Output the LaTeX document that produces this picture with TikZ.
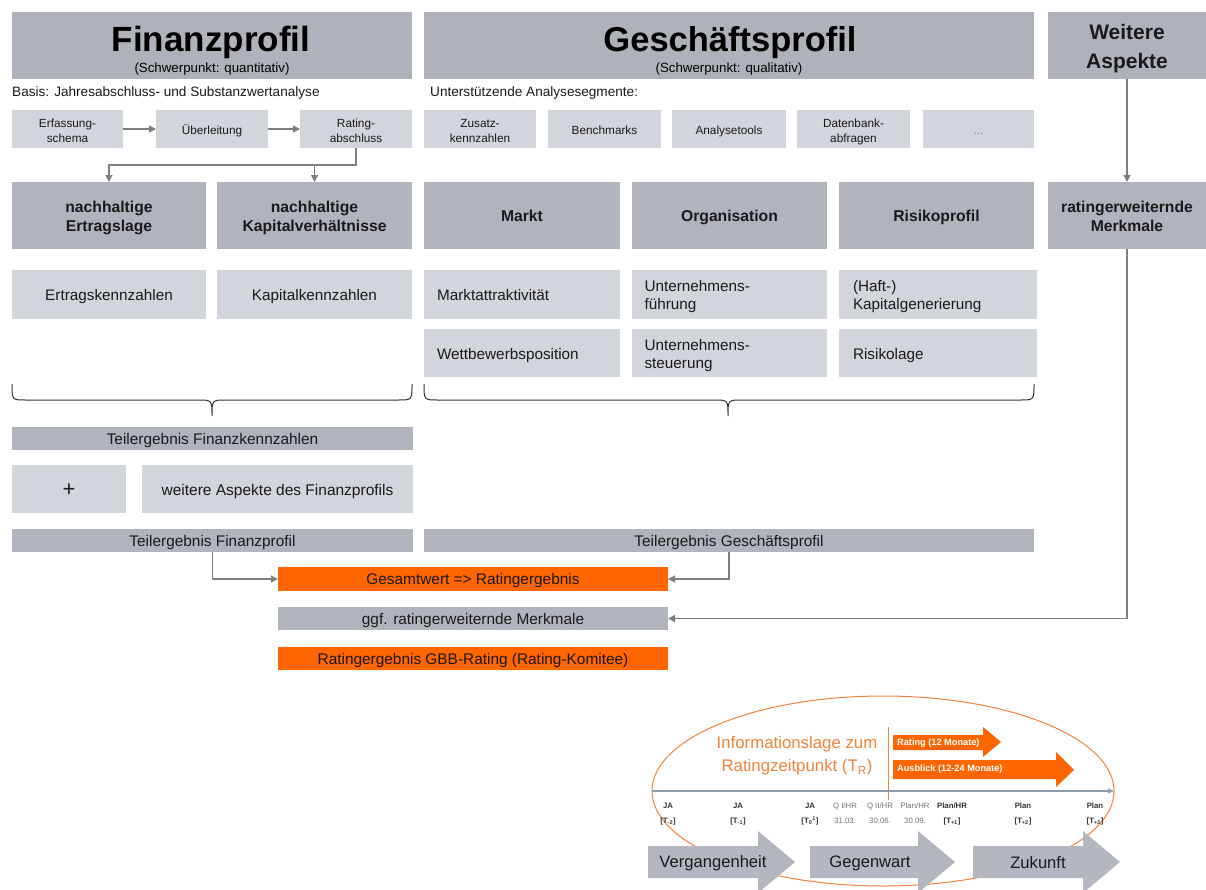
\documentclass[tikz,border=0pt]{standalone}
\usepackage{fontspec}
\setmainfont{Liberation Sans}
\usetikzlibrary{arrows.meta}
\definecolor{hdr}{HTML}{AFB2BB}
\definecolor{dk}{HTML}{B1B4BD}
\definecolor{lt}{HTML}{D3D5DC}
\definecolor{org}{HTML}{FF6600}
\definecolor{arr}{HTML}{808080}
\definecolor{ax}{HTML}{8E9BAE}
\definecolor{borg}{HTML}{F4843C}
\definecolor{bigarr}{HTML}{B4B7C0}
\definecolor{txt}{HTML}{1A1A1A}
\newcommand\fsz[2]{\fontsize{#1}{#2}\selectfont}
\newcommand\bxg[8]{\node[#1, minimum width={#5-#3}, minimum height={#6-#4}] (#2) at ({(#3+#5)/2},{(#4+#6)/2}) {\raisebox{0pt}[\dimexpr\height+5pt\relax][\depth]{\begin{tabular}{@{}#8@{}}#7\end{tabular}}};}
\newcommand\bx[7]{\bxg{#1}{#2}{#3}{#4}{#5}{#6}{#7}{c}}
\newcommand\bxl[7]{\bxg{#1}{#2}{#3}{#4}{#5}{#6}{#7}{p{170pt}}}
\tikzset{
  box/.style={inner sep=0pt, outer sep=0pt, text=txt},
  hdrbox/.style={box, fill=hdr},
  procbox/.style={box, fill=lt, font=\fsz{11.8}{15}},
  dkbox/.style={box, fill=dk, font=\bfseries\fsz{15.7}{19}},
  ltbox/.style={box, fill=lt, font=\fsz{15.3}{18}},
  barbox/.style={box, fill=dk, font=\fsz{15.4}{17}},
  orgbox/.style={box, fill=org, font=\fsz{15.4}{17}},
  conn/.style={draw=arr, line width=1.2pt, -{Triangle[length=7pt,width=7pt]}},
  brace/.style={draw=black!80, line width=1pt},
  tlb/.style={inner sep=0pt, font=\bfseries\fsz{7.8}{9}, text=black!80},
  tlr/.style={inner sep=0pt, font=\fsz{7.8}{9}, text=black!55},
  bigarrow/.style={fill=bigarr},
  orgarrow/.style={fill=org},
}
\begin{document}
\begin{tikzpicture}[x=1pt,y=-1pt]
\useasboundingbox[fill=white] (0,0) rectangle (1206,889);
% headers
\bx{hdrbox}{fp}{12}{12}{412}{79}{}
\node[anchor=base, inner sep=0pt, font=\bfseries\fsz{35}{37}] (fpt) at (211,51) {Finanzprofil};
\node[anchor=base, inner sep=0pt, font=\fsz{13.3}{15}] (fps) at (212,72) {(Schwerpunkt: quantitativ)};
\bx{hdrbox}{gp}{424}{12}{1034}{79}{}
\node[anchor=base, inner sep=0pt, font=\bfseries\fsz{34.5}{37}] (gpt) at (730,51) {Geschäftsprofil};
\node[anchor=base, inner sep=0pt, font=\fsz{13.3}{15}] (gps) at (729,72) {(Schwerpunkt: qualitativ)};
\bx{hdrbox, font=\bfseries\fsz{21}{29}}{wa}{1048}{12}{1206}{79}{Weitere\\Aspekte}
% sub headings
\node[anchor=base west, inner sep=0pt, font=\fsz{13.6}{15}, text=txt] (basis) at (12,96) {Basis: Jahresabschluss- und Substanzwertanalyse};
\node[anchor=base west, inner sep=0pt, font=\fsz{13.6}{15}, text=txt] (unter) at (430,96) {Unterstützende Analysesegmente:};
% process boxes
\bx{procbox}{e1}{12}{110}{123}{148}{Erfassung-\\schema}
\bx{procbox}{e2}{156}{110}{268}{148}{Überleitung}
\bx{procbox}{e3}{300}{110}{412}{148}{Rating-\\abschluss}
\bx{procbox}{s1}{424}{110}{536}{148}{Zusatz-\\kennzahlen}
\bx{procbox}{s2}{548}{110}{661}{148}{Benchmarks}
\bx{procbox}{s3}{672}{110}{786}{148}{Analysetools}
\bx{procbox}{s4}{797}{110}{910}{148}{Datenbank-\\abfragen}
\bx{procbox, text=black!50}{s5}{923}{110}{1034}{148}{...}
% dark row
\bx{dkbox}{d1}{12}{182}{206}{249}{nachhaltige\\Ertragslage}
\bx{dkbox}{d2}{217}{182}{412}{249}{nachhaltige\\Kapitalverhältnisse}
\bx{dkbox}{d3}{424}{182}{620}{249}{Markt}
\bx{dkbox}{d4}{632}{182}{827}{249}{Organisation}
\bx{dkbox}{d5}{839}{182}{1034}{249}{Risikoprofil}
\bx{dkbox}{rwm}{1048}{182}{1206}{249}{ratingerweiternde\\Merkmale}
% light rows
\bx{ltbox}{l1}{12}{270}{206}{319}{Ertragskennzahlen}
\bx{ltbox}{l2}{217}{270}{412}{319}{Kapitalkennzahlen}
\bxl{ltbox}{g11}{424}{270}{620}{319}{Marktattraktivität}
\bxl{ltbox}{g12}{632}{270}{827}{319}{Unternehmens-\\führung}
\bxl{ltbox}{g13}{839}{270}{1037}{319}{(Haft-)\\Kapitalgenerierung}
\bxl{ltbox}{g21}{424}{329}{620}{377}{Wettbewerbsposition}
\bxl{ltbox}{g22}{632}{329}{827}{377}{Unternehmens-\\steuerung}
\bxl{ltbox}{g23}{839}{329}{1037}{377}{Risikolage}
% braces
\draw[brace] (12,384) .. controls (12,400) .. (26,400) -- (198,400) .. controls (212,400) .. (212,416) .. controls (212,400) .. (226,400) -- (398,400) .. controls (412,400) .. (412,384);
\draw[brace] (424,384) .. controls (424,400) .. (438,400) -- (714,400) .. controls (728,400) .. (728,416) .. controls (728,400) .. (742,400) -- (1020,400) .. controls (1034,400) .. (1034,384);
% result bars
\bx{barbox}{tfk}{12}{427}{413}{450}{Teilergebnis Finanzkennzahlen}
\bx{ltbox, font=\fsz{22}{24}}{plus}{12}{465}{126}{513}{+}
\bx{ltbox, font=\fsz{15.5}{18}}{wafp}{142}{465}{413}{513}{weitere Aspekte des Finanzprofils}
\bx{barbox}{tfp}{12}{529}{413}{552}{Teilergebnis Finanzprofil}
\bx{barbox}{tgp}{424}{529}{1034}{552}{Teilergebnis Geschäftsprofil}
\bx{orgbox}{gesamt}{278}{567}{668}{591}{Gesamtwert => Ratingergebnis}
\bx{barbox}{ggf}{278}{607}{668}{630}{ggf. ratingerweiternde Merkmale}
\bx{orgbox}{gbb}{278}{647}{668}{670}{Ratingergebnis GBB-Rating (Rating-Komitee)}
% connectors
\draw[conn] (e1) -- (e2);
\draw[conn] (e2) -- (e3);
\draw[conn] (e3.south) -- ++(0,17) -| (d1.north);
\draw[conn] (e3.south) -- ++(0,17) -| (d2.north);
\draw[conn] (wa) -- (rwm);
\draw[conn] (tfp.south) |- (gesamt.west);
\draw[conn] (tgp.south) |- (gesamt.east);
\draw[conn] (rwm.south) |- (ggf.east);
% timeline graphic
\draw[borg, line width=1pt] (883,791) ellipse [x radius=231pt, y radius=95pt];
\draw[borg, line width=1pt] (888,727) -- (888,800);
\fill[orgarrow] (893,735) -- (983,735) -- (983,727) -- (1001,742) -- (983,757) -- (983,750) -- (893,750) -- cycle;
\fill[orgarrow] (893,760) -- (1056,760) -- (1056,752) -- (1074,770) -- (1056,787) -- (1056,779) -- (893,779) -- cycle;
\node[anchor=west, inner sep=0pt, font=\bfseries\fsz{9.2}{10}, text=white] (rt) at (897,743) {Rating (12 Monate)};
\node[anchor=west, inner sep=0pt, font=\bfseries\fsz{9.2}{10}, text=white] (ab) at (897,769.5) {Ausblick (12-24 Monate)};
\node[inner sep=0pt, align=center, font=\fsz{16.8}{23}, text=borg] (info) at (797,756) {Informationslage zum\\Ratingzeitpunkt (T\textsubscript{R})};
\draw[ax, line width=1.2pt, -{Triangle[length=6pt,width=5pt]}] (652,791) -- (1114,791);
\foreach \xx/\aa/\bb/\st in {668/JA/{[T\textsubscript{-2}]}/tlb, 738/JA/{[T\textsubscript{-1}]}/tlb, 810/JA/{[T\textsubscript{0}\textsuperscript{1}]}/tlb, 845/{Q I/HR}/31.03./tlr, 880/{Q II/HR}/30.06./tlr, 915/{Plan/HR}/30.09./tlr, 952/{Plan/HR}/{[T\textsubscript{+1}]}/tlb, 1023/Plan/{[T\textsubscript{+2}]}/tlb, 1095/Plan/{[T\textsubscript{+3}]}/tlb}{
  \node[\st] at (\xx,806) {\aa};
  \node[\st] at (\xx,821) {\bb};
}
\fill[bigarrow] (648,846) -- (758,846) -- (758,831) -- (795,862) -- (758,893) -- (758,878) -- (648,878) -- cycle;
\fill[bigarrow] (810,846) -- (918,846) -- (918,831) -- (955,862) -- (918,893) -- (918,878) -- (810,878) -- cycle;
\fill[bigarrow] (973,846) -- (1083,846) -- (1083,831) -- (1120,862) -- (1083,893) -- (1083,878) -- (973,878) -- cycle;
\node[inner sep=0pt, font=\fsz{16.6}{18}, text=txt] (verg) at (713,863) {Vergangenheit};
\node[inner sep=0pt, font=\fsz{16.6}{18}, text=txt] (gegw) at (870,863) {Gegenwart};
\node[inner sep=0pt, font=\fsz{16.6}{18}, text=txt] (zuk) at (1038,863) {Zukunft};
\end{tikzpicture}
\end{document}
